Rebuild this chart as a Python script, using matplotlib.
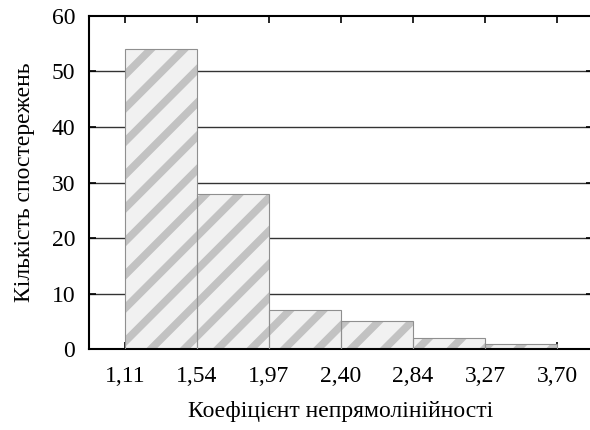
import matplotlib
matplotlib.use('Agg')
import matplotlib.pyplot as plt

# bin edges (labels) and counts
edge_labels = ['1,11', '1,54', '1,97', '2,40', '2,84', '3,27', '3,70']
counts = [54, 28, 7, 5, 2, 1]
y_ticks = [0, 10, 20, 30, 40, 50, 60]

plt.rcParams['font.family'] = ['Liberation Serif', 'DejaVu Serif']
plt.rcParams['hatch.linewidth'] = 5.5

fig = plt.figure(figsize=(5.9, 4.3), dpi=100)
ax = fig.add_axes([0.151, 0.188, 0.854, 0.775])

pos = list(range(len(counts)))
# striped fill (hatch takes the edge colour), then thin outlines
ax.bar(pos, counts, width=1.0, align='edge', facecolor='#f1f1f1',
       edgecolor='#c2c2c2', linewidth=0, hatch='/', zorder=2)
ax.bar(pos, counts, width=1.0, align='edge', facecolor='none',
       edgecolor='#8f8f8f', linewidth=0.8, zorder=3)

for y in y_ticks[1:-1]:
    ax.axhline(y, color='#333333', linewidth=1.0, zorder=1)

ax.set_xlim(-0.5, 6.5)
ax.set_ylim(0, 60)
ax.set_xticks(range(len(edge_labels)))
ax.set_xticklabels(edge_labels)
ax.set_yticks(y_ticks)

ax.tick_params(axis='x', direction='in', length=5, width=1.2, top=True,
               labelsize=17, pad=12)
ax.tick_params(axis='y', direction='in', length=5, width=1.2, right=True,
               labelsize=17, pad=10)

for s in ax.spines.values():
    s.set_linewidth(1.5)

ax.set_xlabel('Коефіцієнт непрямолінійності', fontsize=17, labelpad=10)
ax.set_ylabel('Кількість спостережень', fontsize=17, labelpad=12)

fig.savefig('out.png', dpi=100)
